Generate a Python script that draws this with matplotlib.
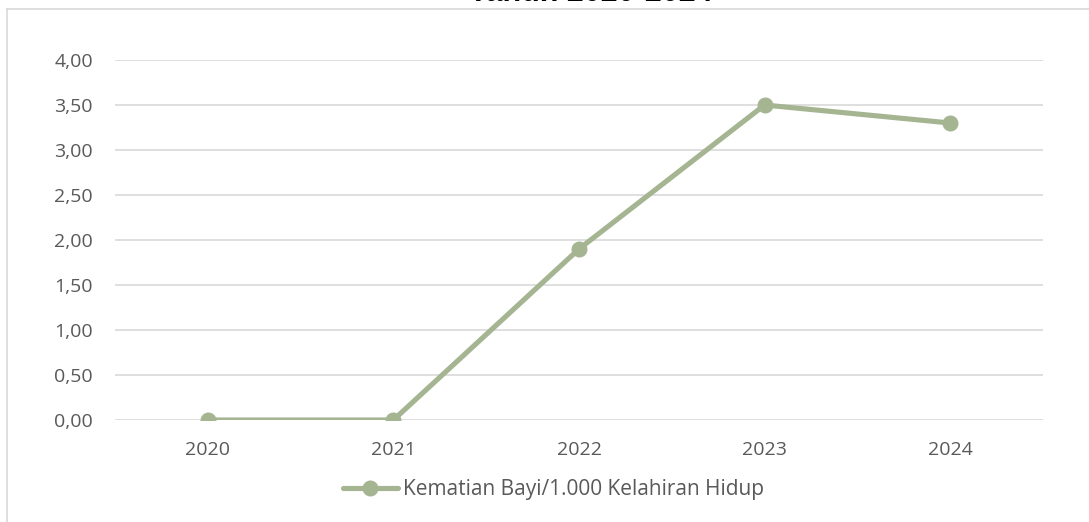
import matplotlib
matplotlib.use('Agg')
import matplotlib.pyplot as plt
from matplotlib.lines import Line2D

# data
years = ['2020', '2021', '2022', '2023', '2024']
kematian = [0.00, 0.00, 1.90, 3.50, 3.30]
yticks = [0.0, 0.5, 1.0, 1.5, 2.0, 2.5, 3.0, 3.5, 4.0]
series_name = 'Kematian Bayi/1.000 Kelahiran Hidup'
title = 'Tahun 2020-2024'

plt.rcParams['font.family'] = ['Open Sans', 'DejaVu Sans']

fig = plt.figure(figsize=(10.89, 5.22), dpi=100)
ax = fig.add_axes([115/1089, 102/522, 928/1089, 360/522])

x = range(len(years))
ax.plot(x, kematian, color='#A5B592', lw=3.7, marker='o', markersize=10.5,
        solid_capstyle='round', label=series_name, zorder=3)

ax.set_xlim(-0.5, len(years) - 0.5)
ax.set_ylim(0, 4)
ax.set_xticks(list(x))
ax.set_xticklabels(years)
ax.set_yticks(yticks)
ax.set_yticklabels([('%.2f' % v).replace('.', ',') for v in yticks])
ax.tick_params(length=0, labelsize=14, labelcolor='#595959')
ax.tick_params(axis='x', pad=15)
ax.tick_params(axis='y', pad=16)
ax.grid(axis='y', color='#D9D9D9', lw=1.2)
ax.set_axisbelow(True)
for s in ax.spines.values():
    s.set_visible(False)

# chart frame (cut off at top/right)
fig.add_artist(Line2D([7/1089, 1], [1 - 8.5/522, 1 - 8.5/522], color='#D9D9D9', lw=1.2))
fig.add_artist(Line2D([7/1089, 7/1089], [0, 1 - 8.5/522], color='#D9D9D9', lw=1.2))

# title, mostly cropped away like in the source
fig.text(591/1089, 1 - 1/522, title, ha='center', va='baseline', fontsize=22,
         fontweight='bold', family=['Liberation Sans', 'DejaVu Sans'], color='black')

fig.legend(loc='center', bbox_to_anchor=(553.5/1089, 1 - 490/522), frameon=False,
           fontsize=15, labelcolor='#595959', handlelength=2.65, handletextpad=0.25)

fig.savefig('out.png', dpi=100)
